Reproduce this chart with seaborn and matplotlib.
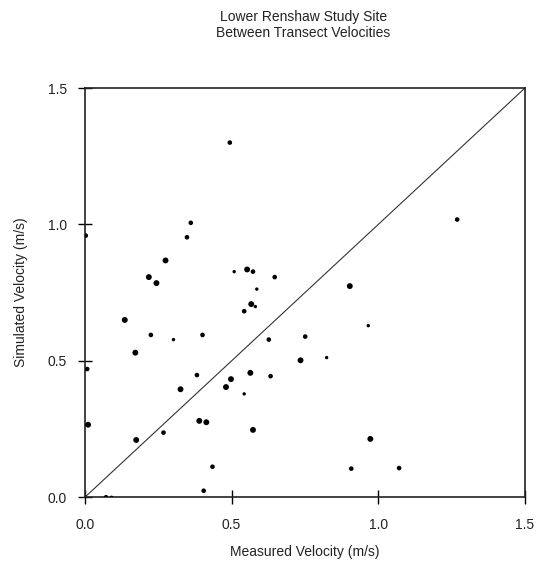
import pandas as pd
import matplotlib.pyplot as plt
import seaborn as sns

# measured vs simulated velocities (m/s)
measured = [0.494, 0.361, 0.348, 0.003, 0.275, 0.218, 0.244, 0.509, 0.553, 0.573,
            0.586, 0.647, 1.269, 0.903, 0.136, 0.225, 0.302, 0.401, 0.543, 0.567,
            0.581, 0.627, 0.751, 0.172, 0.008, 0.735, 0.382, 0.564, 0.633, 0.498,
            0.481, 0.326, 0.543, 0.390, 0.414, 0.011, 0.573, 0.268, 0.175, 0.435,
            0.405, 0.072, 0.091, 0.966, 0.824, 0.973, 0.908, 1.071]
simulated = [1.300, 1.006, 0.953, 0.959, 0.868, 0.807, 0.785, 0.827, 0.835, 0.827,
             0.763, 0.807, 1.018, 0.774, 0.650, 0.595, 0.578, 0.595, 0.682, 0.708,
             0.699, 0.578, 0.589, 0.530, 0.470, 0.502, 0.448, 0.456, 0.444, 0.433,
             0.404, 0.396, 0.379, 0.280, 0.275, 0.266, 0.247, 0.237, 0.210, 0.112,
             0.024, 0.000, 0.000, 0.629, 0.512, 0.214, 0.105, 0.107]
# apparent dot size class in the picture
dot_size = ['M', 'M', 'M', 'M', 'L', 'L', 'L', 'S', 'L', 'M',
            'S', 'M', 'M', 'L', 'L', 'M', 'S', 'M', 'M', 'L',
            'S', 'M', 'M', 'L', 'M', 'L', 'M', 'L', 'M', 'L',
            'L', 'L', 'S', 'L', 'L', 'L', 'L', 'M', 'L', 'M',
            'M', 'M', 'S', 'S', 'S', 'L', 'M', 'M']
ticks = [0.0, 0.5, 1.0, 1.5]

df = pd.DataFrame({'Measured': measured, 'Simulated': simulated, 'dot': dot_size})

sns.set_style('white')
plt.rcParams['font.family'] = ['Liberation Sans', 'DejaVu Sans']

fig = plt.figure(figsize=(5.44, 5.66), dpi=100)
ax = fig.add_axes([0.156, 0.1214, 0.809, 0.7231])

# 1:1 line
ax.plot([0, 1.5], [0, 1.5], color='#333333', linewidth=0.8, zorder=1)

sns.scatterplot(data=df, x='Measured', y='Simulated', size='dot',
                sizes={'L': 18, 'M': 11, 'S': 6}, color='black',
                linewidth=0, legend=False, ax=ax, zorder=3)

ax.set_xlim(0, 1.5)
ax.set_ylim(0, 1.5)
ax.set_xticks(ticks)
ax.set_yticks(ticks)
ax.set_xticklabels([f'{t:.1f}' for t in ticks])
ax.set_yticklabels([f'{t:.1f}' for t in ticks])
ax.tick_params(bottom=True, left=True, direction='inout', length=10, width=1,
               color='black', labelsize=10, labelcolor='#222222')
ax.tick_params(axis='x', pad=10)
ax.tick_params(axis='y', pad=8)

for sp in ax.spines.values():
    sp.set_color('#222222')
    sp.set_linewidth(1.2)

ax.set_xlabel('Measured Velocity (m/s)', fontsize=10, color='#222222', labelpad=9)
ax.set_ylabel('Simulated Velocity (m/s)', fontsize=10, color='#222222', labelpad=14)

fig.text(0.558, 0.982, 'Lower Renshaw Study Site\nBetween Transect Velocities',
         ha='center', va='top', fontsize=10, color='#222222', linespacing=1.15)

plt.savefig('out.png', dpi=100)
